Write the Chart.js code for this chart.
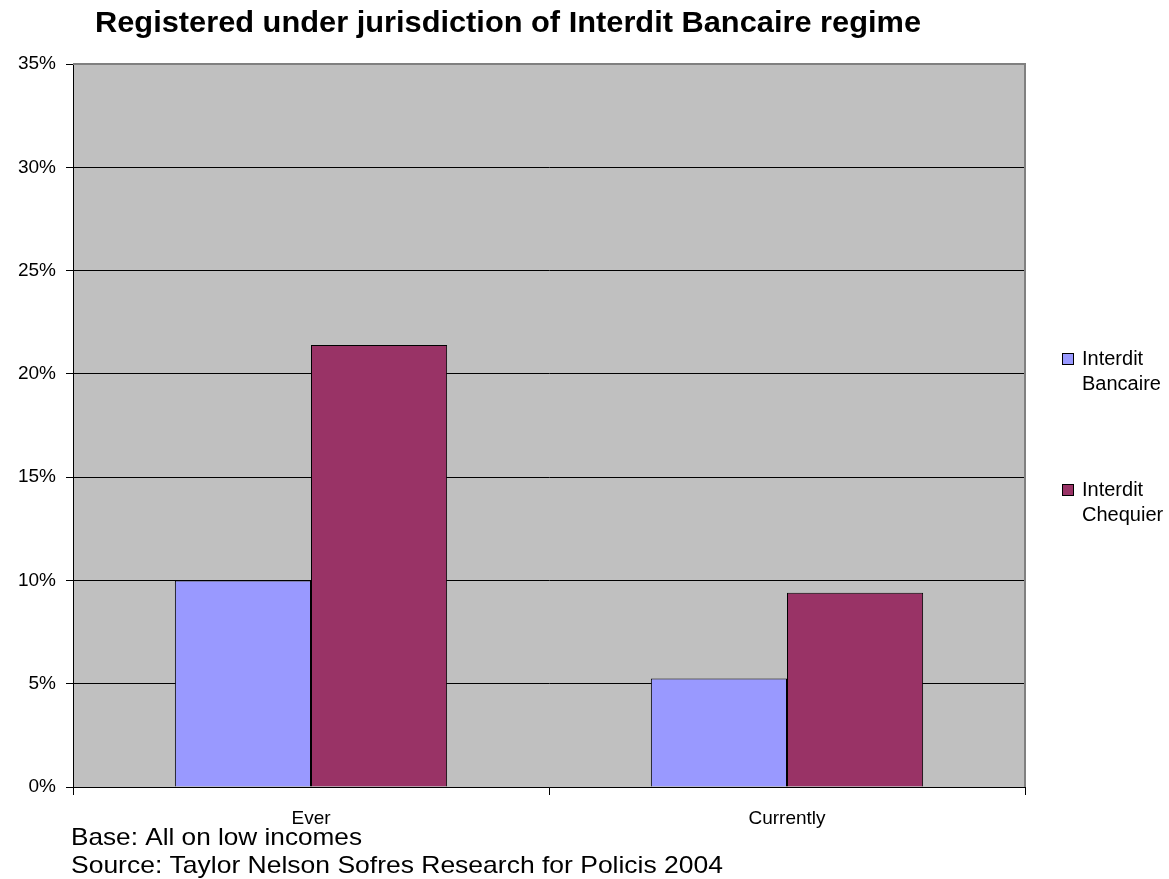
<!DOCTYPE html>
<html>
<head>
<meta charset="utf-8">
<script src="https://cdn.jsdelivr.net/npm/chart.js@4.4.1/dist/chart.umd.min.js"></script>
<style>
  body { margin: 0; background: #fff; }
  #wrap { width: 1169px; height: 879px; position: relative; }
</style>
</head>
<body>
<div id="wrap"><canvas id="barChart"></canvas></div>
<script>
const categories = ['Ever', 'Currently'];
const bancaire = [10.0, 5.25];
const chequier = [21.4, 9.4];
const yTicks = [0, 5, 10, 15, 20, 25, 30, 35];
const titleText = 'Registered under jurisdiction of Interdit Bancaire regime';
const notes = ['Base: All on low incomes', 'Source: Taylor Nelson Sofres Research for Policis 2004'];

const FONT = '"Liberation Sans", Arial, sans-serif';

// draws text squeezed/stretched to a given width (the source picture is a bit wide)
function drawFit(ctx, text, x, y, font, width) {
  ctx.save();
  ctx.font = font;
  ctx.textAlign = 'left';
  ctx.textBaseline = 'alphabetic';
  const sx = width / ctx.measureText(text).width;
  ctx.translate(x, y);
  ctx.scale(sx, 1);
  ctx.fillText(text, 0, 0);
  ctx.restore();
}

const decor = {
  id: 'decor',
  beforeDraw(chart) {
    const { ctx, chartArea: a } = chart;
    ctx.save();
    ctx.fillStyle = '#c0c0c0';
    ctx.fillRect(a.left, a.top, a.right - a.left, a.bottom - a.top);
    ctx.restore();
  },
  afterDraw(chart) {
    const { ctx, chartArea: a } = chart;
    ctx.save();
    // plot frame (grey top/right)
    ctx.strokeStyle = '#808080';
    ctx.lineWidth = 2;
    ctx.beginPath();
    ctx.moveTo(a.left, a.top);
    ctx.lineTo(a.right, a.top);
    ctx.lineTo(a.right, a.bottom);
    ctx.stroke();

    ctx.fillStyle = '#000';
    drawFit(ctx, titleText, 95, 32, 'bold 29px ' + FONT, 826);
    drawFit(ctx, notes[0], 71, 845, '24px ' + FONT, 291);
    drawFit(ctx, notes[1], 71, 873, '24px ' + FONT, 652);

    // legend
    const entryY = [353, 484];
    chart.data.datasets.forEach((ds, i) => {
      const y = entryY[i];
      ctx.fillStyle = ds.backgroundColor;
      ctx.fillRect(1062, y, 12, 12);
      ctx.strokeStyle = '#000';
      ctx.lineWidth = 1;
      ctx.strokeRect(1062.5, y + 0.5, 11, 11);
      ctx.fillStyle = '#000';
      ctx.font = '20px ' + FONT;
      ctx.textAlign = 'left';
      ctx.textBaseline = 'alphabetic';
      const parts = ds.label.split(' ');
      ctx.fillText(parts[0], 1082, y + 12);
      ctx.fillText(parts.slice(1).join(' '), 1082, y + 37);
    });
    ctx.restore();
  }
};

const ctx = document.getElementById('barChart').getContext('2d');
const barChart = new Chart(ctx, {
  type: 'bar',
  data: {
    labels: categories,
    datasets: [{
      label: 'Interdit Bancaire',
      data: bancaire,
      backgroundColor: '#9999ff',
      borderColor: '#000',
      borderWidth: 1
    }, {
      label: 'Interdit Chequier',
      data: chequier,
      backgroundColor: '#993366',
      borderColor: '#000',
      borderWidth: 1
    }]
  },
  options: {
    responsive: true,
    maintainAspectRatio: false,
    animation: false,
    layout: { padding: { left: 0, right: 144, top: 64, bottom: 0 } },
    datasets: { bar: { categoryPercentage: 0.572, barPercentage: 1.0 } },
    plugins: {
      legend: { display: false },
      title: { display: false },
      tooltip: { enabled: false }
    },
    scales: {
      x: {
        afterFit(scale) { scale.height = 92; },
        grid: { drawOnChartArea: false, offset: true, color: '#000', tickLength: 8 },
        border: { color: '#000', width: 1 },
        ticks: { color: '#000', font: { family: FONT, size: 19 }, padding: 12 }
      },
      y: {
        min: 0,
        max: 35,
        afterFit(scale) { scale.width = 73; },
        afterBuildTicks(scale) { scale.ticks = yTicks.map(v => ({ value: v })); },
        grid: { color: '#000', lineWidth: 1, tickLength: 7 },
        border: { color: '#000', width: 1 },
        ticks: {
          color: '#000',
          font: { family: FONT, size: 19 },
          padding: 10,
          callback: v => v + '%'
        }
      }
    }
  },
  plugins: [decor]
});
</script>
</body>
</html>
